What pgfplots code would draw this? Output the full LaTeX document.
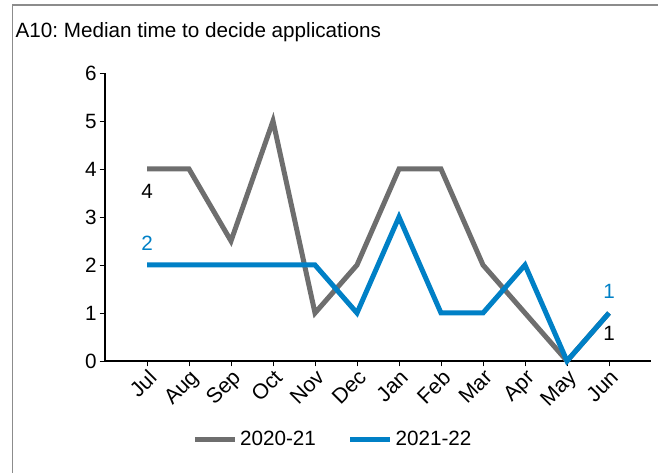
\documentclass[border=0pt]{standalone}
\usepackage{pgfplots}
\pgfplotsset{compat=1.18}
\usepackage{fontspec}
\setmainfont{Liberation Sans}
\frenchspacing
\definecolor{sgray}{RGB}{110,110,110}
\definecolor{sblue}{RGB}{0,128,198}
\begin{document}
\begin{tikzpicture}
\fontsize{15.5}{18}\selectfont
\path[use as bounding box] (0,0) rectangle (493.5pt,354.75pt);
\draw[color=gray!90,line width=1.2pt] (9.4pt,0) -- (9.4pt,351pt) -- (493.5pt,351pt);
\node[anchor=base west,inner sep=0pt] at (11.5pt,326.5pt) {A10: Median time to decide applications};
\begin{axis}[
  at={(78.75pt,84pt)}, anchor=south west,
  scale only axis, width=409.5pt, height=216pt,
  xmin=-1, xmax=12, ymin=0, ymax=6,
  axis x line*=bottom, axis y line*=left,
  axis line style={line width=1.5pt,-},
  xtick={0,...,11},
  xticklabels={Jul,Aug,Sep,Oct,Nov,Dec,Jan,Feb,Mar,Apr,May,Jun},
  ytick={0,...,6},
  tick align=outside, major tick length=4pt,
  tick style={black,line width=0.6pt},
  xticklabel style={rotate=45,anchor=north east,inner sep=1pt,font=\fontsize{16}{18}\selectfont},
  yticklabel style={font=\fontsize{15.5}{18}\selectfont,inner sep=2pt},
  /pgf/number format/assume math mode=true,
  legend columns=2,
  legend style={at={(0.418,-0.274)},anchor=center,draw=none,fill=none,
    font=\fontsize{15.5}{18}\selectfont,
    /tikz/every even column/.append style={column sep=22pt}},
  legend image code/.code={\draw[#1,line width=3.75pt] (0,0) -- (30pt,0);},
  clip=false,
]
\addplot[sgray,line width=3.75pt,line join=miter] coordinates {
(0,4) (1,4) (2,2.5) (3,5) (4,1) (5,2) (6,4) (7,4) (8,2) (9,1) (10,0) (11,1)};
\addlegendentry{2020-21}
\addplot[sblue,line width=3.75pt,line join=miter] coordinates {
(0,2) (1,2) (2,2) (3,2) (4,2) (5,1) (6,3) (7,1) (8,1) (9,2) (10,0) (11,1)};
\addlegendentry{2021-22}
\node[black] at (axis cs:0,4) [yshift=-17pt] {4};
\node[sblue] at (axis cs:0,2) [yshift=16.5pt] {2};
\node[sblue] at (axis cs:11,1) [yshift=16.5pt] {1};
\node[black] at (axis cs:11,1) [yshift=-15pt] {1};
\end{axis}
\end{tikzpicture}
\end{document}
